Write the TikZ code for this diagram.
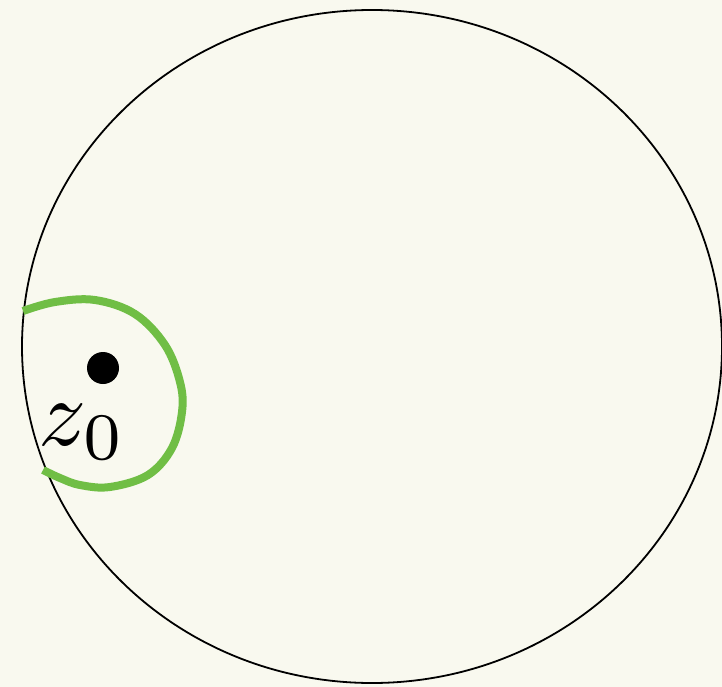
\documentclass[tikz,border=0pt]{standalone}
\definecolor{bgcream}{RGB}{249,249,239}
\definecolor{curvegreen}{RGB}{112,190,69}
\begin{document}
\begin{tikzpicture}[x=1pt,y=-1pt,
  rim/.style={draw=black,line width=1.8pt},
  loopline/.style={draw=curvegreen,line width=8pt,line cap=butt},
  dotnode/.style={circle,fill=black,inner sep=0pt,minimum size=32pt}]
\fill[bgcream] (0,0) rectangle (722,687);
\useasboundingbox (0,0) rectangle (722,687);
\draw[rim] (372,346.5) ellipse [x radius=350, y radius=336.5];
\draw[loopline] plot[smooth,tension=0.6] coordinates {(23,311) (55,302) (95,300) (135,314) (165,345) (180,382) (182,412) (172,448) (148,475) (110,487) (80,485) (60,478) (43,470)};
\node[dotnode] (dot) at (103,368) {};
\node[anchor=base west,inner sep=0pt,scale=9.5] (z0) at (37,445) {$z_0$};
\end{tikzpicture}
\end{document}
